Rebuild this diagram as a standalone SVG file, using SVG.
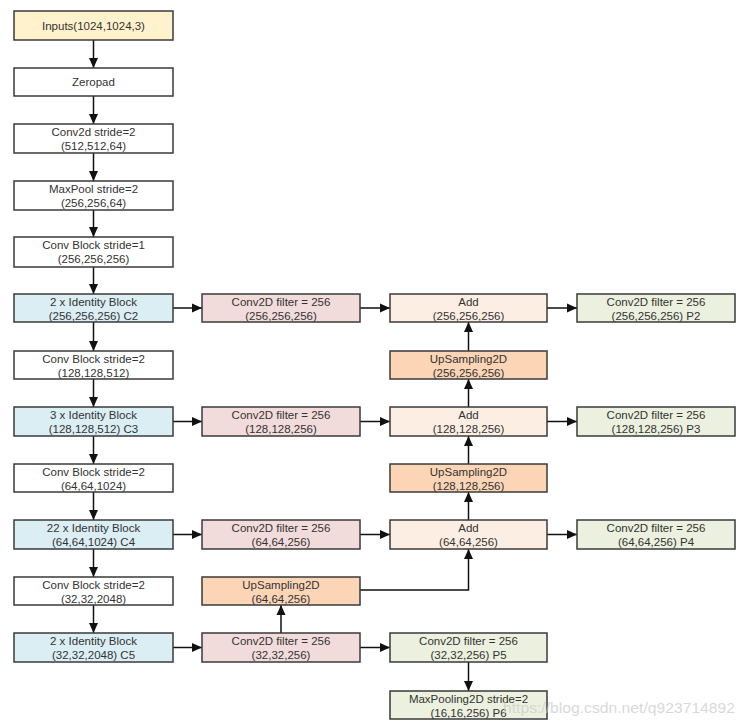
<svg xmlns="http://www.w3.org/2000/svg" width="747" height="726" viewBox="0 0 747 726">
<defs>
<marker id="ah" viewBox="0 0 10 10" refX="10" refY="5" markerWidth="10" markerHeight="10" markerUnits="userSpaceOnUse" orient="auto">
<path d="M0,0.5 L10,5 L0,9.5 Z" fill="#111"/>
</marker>
<style>
rect{stroke:#3a3a3a;stroke-width:1.5}
text{font-family:"Liberation Sans",Arial,sans-serif;font-size:11.5px;fill:#333;text-anchor:middle}
.w{fill:#ffffff}.y{fill:#fff2cc}.b{fill:#dbeef4}.p{fill:#f2dcdb}.a{fill:#fdeee4}.u{fill:#fbd5b6}.g{fill:#ebf1de}
#connectors line,#connectors polyline{stroke:#111;stroke-width:1.5;fill:none;marker-end:url(#ah)}
.wm{font-family:"Liberation Sans",Arial,sans-serif;font-size:15px;fill:#c8c8c8;fill-opacity:0.7;text-anchor:start}
</style>
</defs>
<rect x="0" y="0" width="747" height="726" fill="#ffffff" style="stroke:none"/>
<g id="connectors">
<line x1="93.5" y1="40" x2="93.5" y2="68"/>
<line x1="93.5" y1="96" x2="93.5" y2="124"/>
<line x1="93.5" y1="153" x2="93.5" y2="181"/>
<line x1="93.5" y1="210" x2="93.5" y2="237"/>
<line x1="93.5" y1="267" x2="93.5" y2="294"/>
<line x1="93.5" y1="322" x2="93.5" y2="351"/>
<line x1="93.5" y1="379" x2="93.5" y2="407"/>
<line x1="93.5" y1="436" x2="93.5" y2="464"/>
<line x1="93.5" y1="492" x2="93.5" y2="520"/>
<line x1="93.5" y1="549" x2="93.5" y2="577"/>
<line x1="93.5" y1="605" x2="93.5" y2="633"/>
<line x1="173" y1="308" x2="202" y2="308"/>
<line x1="360" y1="308" x2="390" y2="308"/>
<line x1="547" y1="308" x2="577" y2="308"/>
<line x1="173" y1="421.5" x2="202" y2="421.5"/>
<line x1="360" y1="421.5" x2="390" y2="421.5"/>
<line x1="547" y1="421.5" x2="577" y2="421.5"/>
<line x1="173" y1="534.5" x2="202" y2="534.5"/>
<line x1="360" y1="534.5" x2="390" y2="534.5"/>
<line x1="547" y1="534.5" x2="577" y2="534.5"/>
<line x1="173" y1="647.5" x2="202" y2="647.5"/>
<line x1="360" y1="647.5" x2="390" y2="647.5"/>
<line x1="468.5" y1="351" x2="468.5" y2="322"/>
<line x1="468.5" y1="407" x2="468.5" y2="379"/>
<line x1="468.5" y1="464" x2="468.5" y2="436"/>
<line x1="468.5" y1="520" x2="468.5" y2="492"/>
<line x1="281" y1="633" x2="281" y2="605"/>
<polyline points="360,590 468.5,590 468.5,549"/>
<line x1="468.5" y1="662" x2="468.5" y2="691"/>
</g>
<g id="inputs"><rect class="y" x="14" y="11" width="159" height="29"/><text x="93.5" y="29.5">Inputs(1024,1024,3)</text></g>
<g id="zeropad"><rect class="w" x="14" y="68" width="159" height="28"/><text x="93.5" y="86">Zeropad</text></g>
<g id="conv2d"><rect class="w" x="14" y="124" width="159" height="29"/><text x="93.5" y="136">Conv2d stride=2</text><text x="93.5" y="149.5">(512,512,64)</text></g>
<g id="maxpool"><rect class="w" x="14" y="181" width="159" height="29"/><text x="93.5" y="193">MaxPool stride=2</text><text x="93.5" y="206.5">(256,256,64)</text></g>
<g id="convblock1"><rect class="w" x="14" y="237" width="159" height="30"/><text x="93.5" y="249">Conv Block stride=1</text><text x="93.5" y="262.5">(256,256,256)</text></g>
<g id="c2"><rect class="b" x="14" y="294" width="159" height="28"/><text x="93.5" y="306">2 x Identity Block</text><text x="93.5" y="319.5">(256,256,256) C2</text></g>
<g id="convblock2"><rect class="w" x="14" y="351" width="159" height="28"/><text x="93.5" y="363">Conv Block stride=2</text><text x="93.5" y="376.5">(128,128,512)</text></g>
<g id="c3"><rect class="b" x="14" y="407" width="159" height="29"/><text x="93.5" y="419">3 x Identity Block</text><text x="93.5" y="432.5">(128,128,512) C3</text></g>
<g id="convblock3"><rect class="w" x="14" y="464" width="159" height="28"/><text x="93.5" y="476">Conv Block stride=2</text><text x="93.5" y="489.5">(64,64,1024)</text></g>
<g id="c4"><rect class="b" x="14" y="520" width="159" height="29"/><text x="93.5" y="532">22 x Identity Block</text><text x="93.5" y="545.5">(64,64,1024) C4</text></g>
<g id="convblock4"><rect class="w" x="14" y="577" width="159" height="28"/><text x="93.5" y="589">Conv Block stride=2</text><text x="93.5" y="602.5">(32,32,2048)</text></g>
<g id="c5"><rect class="b" x="14" y="633" width="159" height="29"/><text x="93.5" y="645">2 x Identity Block</text><text x="93.5" y="658.5">(32,32,2048) C5</text></g>
<g id="conv_c2"><rect class="p" x="202" y="294" width="158" height="28"/><text x="281" y="306">Conv2D filter = 256</text><text x="281" y="319.5">(256,256,256)</text></g>
<g id="conv_c3"><rect class="p" x="202" y="407" width="158" height="29"/><text x="281" y="419">Conv2D filter = 256</text><text x="281" y="432.5">(128,128,256)</text></g>
<g id="conv_c4"><rect class="p" x="202" y="520" width="158" height="29"/><text x="281" y="532">Conv2D filter = 256</text><text x="281" y="545.5">(64,64,256)</text></g>
<g id="up64"><rect class="u" x="202" y="577" width="158" height="28"/><text x="281" y="589">UpSampling2D</text><text x="281" y="602.5">(64,64,256)</text></g>
<g id="conv_c5"><rect class="p" x="202" y="633" width="158" height="29"/><text x="281" y="645">Conv2D filter = 256</text><text x="281" y="658.5">(32,32,256)</text></g>
<g id="add256"><rect class="a" x="390" y="294" width="157" height="28"/><text x="468.5" y="306">Add</text><text x="468.5" y="319.5">(256,256,256)</text></g>
<g id="up256"><rect class="u" x="390" y="351" width="157" height="28"/><text x="468.5" y="363">UpSampling2D</text><text x="468.5" y="376.5">(256,256,256)</text></g>
<g id="add128"><rect class="a" x="390" y="407" width="157" height="29"/><text x="468.5" y="419">Add</text><text x="468.5" y="432.5">(128,128,256)</text></g>
<g id="up128"><rect class="u" x="390" y="464" width="157" height="28"/><text x="468.5" y="476">UpSampling2D</text><text x="468.5" y="489.5">(128,128,256)</text></g>
<g id="add64"><rect class="a" x="390" y="520" width="157" height="29"/><text x="468.5" y="532">Add</text><text x="468.5" y="545.5">(64,64,256)</text></g>
<g id="p5"><rect class="g" x="390" y="633" width="157" height="29"/><text x="468.5" y="645">Conv2D filter = 256</text><text x="468.5" y="658.5">(32,32,256) P5</text></g>
<g id="p6"><rect class="g" x="390" y="691" width="157" height="28"/><text x="468.5" y="703">MaxPooling2D stride=2</text><text x="468.5" y="716.5">(16,16,256) P6</text></g>
<g id="p2"><rect class="g" x="577" y="294" width="158" height="28"/><text x="656" y="306">Conv2D filter = 256</text><text x="656" y="319.5">(256,256,256) P2</text></g>
<g id="p3"><rect class="g" x="577" y="407" width="158" height="29"/><text x="656" y="419">Conv2D filter = 256</text><text x="656" y="432.5">(128,128,256) P3</text></g>
<g id="p4"><rect class="g" x="577" y="520" width="158" height="29"/><text x="656" y="532">Conv2D filter = 256</text><text x="656" y="545.5">(64,64,256) P4</text></g>
<text class="wm" x="503" y="713" textLength="232" lengthAdjust="spacingAndGlyphs">https://blog.csdn.net/q923714892</text>
</svg>
